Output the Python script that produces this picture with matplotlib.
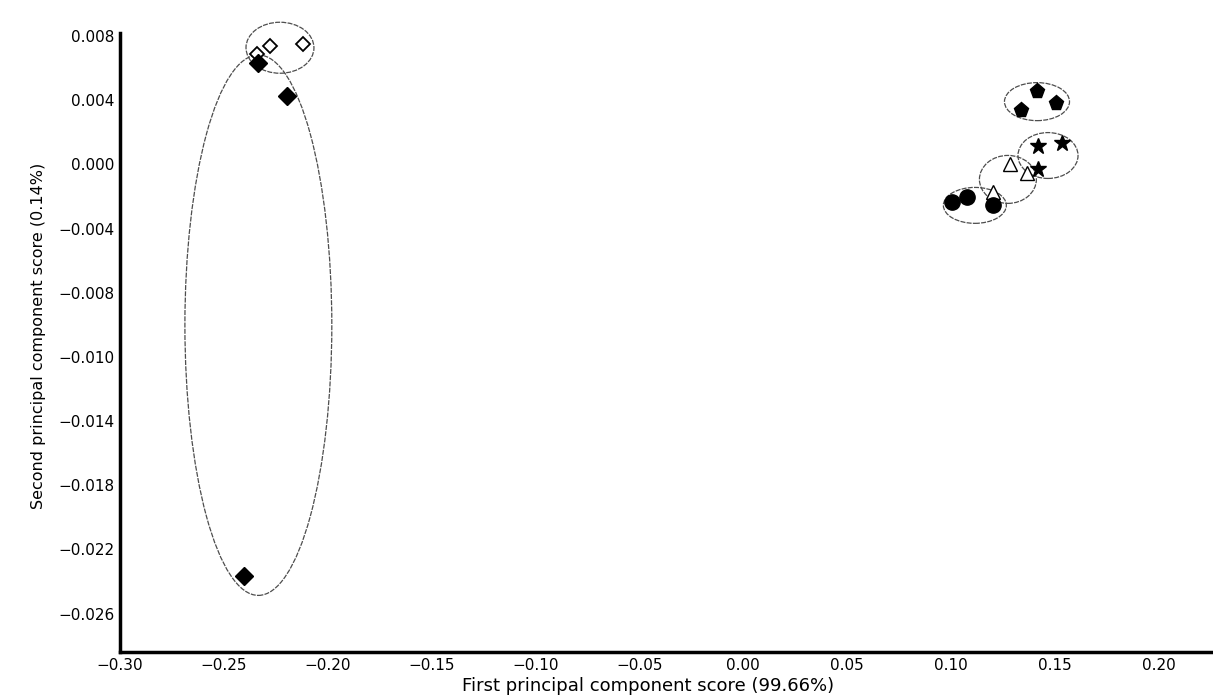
'''
pca_scores.py

PCA score plot: first vs second principal component, grouped samples.
'''

import matplotlib
matplotlib.use('Agg')
import matplotlib.pyplot as plt
from matplotlib.patches import Ellipse

# Group scores (PC1, PC2)
open_diamond_x = [-0.2278, -0.2119, -0.2341]
open_diamond_y = [0.00741, 0.00753, 0.00691]
filled_diamond_x = [-0.2336, -0.2196, -0.2403]
filled_diamond_y = [0.00635, 0.00430, -0.02565]
pentagon_x = [0.1413, 0.1336, 0.1504]
pentagon_y = [0.00461, 0.00342, 0.00386]
star_x = [0.1417, 0.1533, 0.1417]
star_y = [0.00118, 0.00131, -0.00025]
triangle_x = [0.1283, 0.1364, 0.1201]
triangle_y = [0.00006, -0.00056, -0.00174]
circle_x = [0.1004, 0.1076, 0.1201]
circle_y = [-0.00237, -0.00205, -0.00255]

# Group ellipses: centre x, centre y, width, height, angle
group_ellipses = [
    (-0.2230, 0.00728, 0.0327, 0.00318, 0),
    (-0.2334, -0.01002, 0.0707, 0.0337, 0),
    (0.1413, 0.00392, 0.0313, 0.00237, 0),
    (0.1466, 0.00056, 0.0289, 0.00286, 0),
    (0.1273, -0.00093, 0.0274, 0.00299, 0),
    (0.1114, -0.00255, 0.0303, 0.00224, 0),
]

x_ticks = [-0.30, -0.25, -0.20, -0.15, -0.10, -0.05, 0.00, 0.05, 0.10, 0.15, 0.20]
y_ticks = [0.008, 0.004, 0.000, -0.004, -0.008, -0.012, -0.016, -0.020, -0.024, -0.028]
y_tick_labels = ['0.008', '0.004', '0.000', '\u22120.004', '\u22120.008', '\u22120.010',
                 '\u22120.014', '\u22120.018', '\u22120.022', '\u22120.026']


def main():
    fig = plt.figure(figsize=(12.13, 6.96), dpi=100)
    ax = fig.add_axes([0.0989, 0.0632, 0.9011, 0.8894])

    for (cx, cy, w, h, a) in group_ellipses:
        ax.add_patch(Ellipse((cx, cy), w, h, angle=a, fill=False, clip_on=False,
                             edgecolor='0.3', linewidth=0.9, linestyle=(0, (4, 1))))

    ax.plot(open_diamond_x, open_diamond_y, 'D', ms=7, mfc='white', mec='black', mew=1.3)
    ax.plot(filled_diamond_x, filled_diamond_y, 'D', ms=9, color='black')
    ax.plot(pentagon_x, pentagon_y, 'p', ms=11, color='black')
    ax.plot(star_x, star_y, '*', ms=12, color='black')
    ax.plot(triangle_x, triangle_y, '^', ms=10, mfc='white', mec='black', mew=1.0)
    ax.plot(circle_x, circle_y, 'o', ms=11, color='black')

    ax.set_xlim(-0.30, 0.226)
    ax.set_ylim(-0.0304, 0.0082)
    ax.set_xticks(x_ticks)
    ax.set_xticklabels(['%.2f' % v if v >= 0 else '\u2212%.2f' % -v for v in x_ticks])
    ax.set_yticks(y_ticks)
    ax.set_yticklabels(y_tick_labels)
    ax.tick_params(length=0, labelsize=11, pad=4)

    for side in ['top', 'right']:
        ax.spines[side].set_visible(False)
    for side in ['left', 'bottom']:
        ax.spines[side].set_linewidth(2.5)

    ax.set_xlabel('First principal component score (99.66%)', fontsize=13, labelpad=2)
    ax.xaxis.set_label_coords((648 - 120) / 1093, -0.04)
    ax.set_ylabel('Second principal component score (0.14%)', fontsize=11.5)
    ax.yaxis.set_label_coords(-0.068, (652 - 336) / 619)

    fig.savefig('out.png', dpi=100)


if __name__ == '__main__':
    main()
